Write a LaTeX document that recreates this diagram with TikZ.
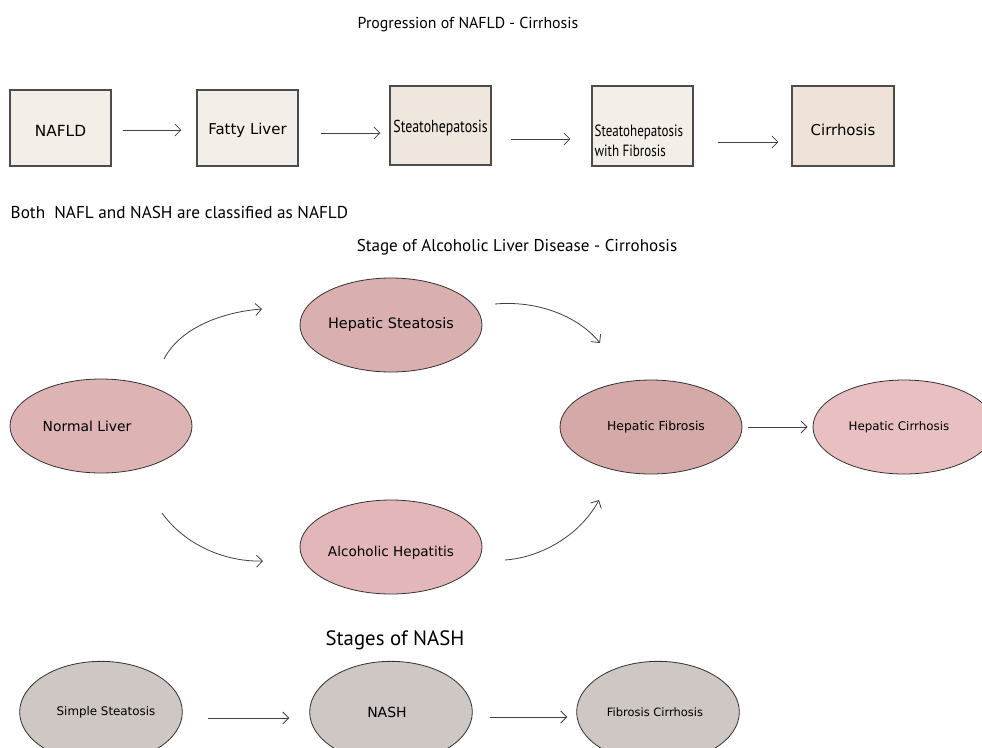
\documentclass[tikz,border=0pt]{standalone}
\usepackage{fontspec}
\setmainfont{PT Sans}
\newfontfamily\labelfont{DejaVu Sans}
\newfontfamily\narrowfont[FakeStretch=0.8]{PT Sans}
\usetikzlibrary{arrows.meta,shapes.geometric,calc}

\definecolor{boxbeige}{HTML}{F4EEE8}
\definecolor{boxtan}{HTML}{EFE6DD}
\definecolor{boxrose}{HTML}{EFE2D8}
\definecolor{steatpink}{HTML}{D9B0AF}
\definecolor{normalpink}{HTML}{DDB4B3}
\definecolor{alcopink}{HTML}{E3B7BA}
\definecolor{fibropink}{HTML}{D4A9A8}
\definecolor{cirrpink}{HTML}{E9C0C1}
\definecolor{nashgrey}{HTML}{CEC7C3}

\newcommand{\lsize}[1]{\labelfont\fontsize{#1}{#1}\selectfont}
\newcommand{\dropby}[2]{\raisebox{-#1}[\height][\depth]{#2}}

\begin{document}
\begin{tikzpicture}[x=0.75pt,y=-0.75pt,
  stagebox/.style={draw=black!70,line width=0.9pt,inner sep=0pt,
    minimum width=75.75pt,minimum height=57pt,font=\lsize{11.2}},
  liverblob/.style={ellipse,draw=black!80,line width=0.6pt,inner sep=0pt,
    minimum width=136.5pt,minimum height=70.5pt,font=\lsize{10}},
  nashblob/.style={ellipse,draw=black!80,line width=0.6pt,inner sep=0pt,fill=nashgrey,
    minimum width=122pt,minimum height=76pt,font=\lsize{8.6}},
  flow/.style={-{Straight Barb[length=4.5pt,width=9pt]},draw=black!75,line width=0.6pt}]
\useasboundingbox (0,0) rectangle (982,747);
\clip (0,0) rectangle (982,747);

% titles
\node[font=\fontsize{11.9}{14}\selectfont] (title1) at (468,25) {Progression of NAFLD - Cirrhosis};
\node[font=\fontsize{12.9}{15}\selectfont,anchor=west] (note) at (6,212) {Both\ \ NAFL and NASH are classified as NAFLD};
\node[font=\fontsize{12.8}{15}\selectfont] (title2) at (517,247) {Stage of Alcoholic Liver Disease - Cirrohosis};
\node[font=\fontsize{15.6}{18}\selectfont] (title3) at (395,640) {Stages of NASH};

% NAFLD progression
\node[stagebox,fill=boxbeige,font=\lsize{11.5}] (nafld) at (60.5,128) {\dropby{2.25pt}{NAFLD}};
\node[stagebox,fill=boxbeige] (fatty) at (247.5,128) {\dropby{1.5pt}{Fatty Liver}};
\node[stagebox,fill=boxtan,minimum height=59.25pt,font=\narrowfont\fontsize{13}{14}\selectfont] (steato) at (440.5,125.5) {\dropby{2pt}{Steatohepatosis}};
\node[stagebox,fill=boxbeige,minimum height=60pt] (swf) at (642.5,126) {};
\node[font=\narrowfont\fontsize{12.2}{15}\selectfont,align=left,anchor=west,inner sep=0pt] (swftext) at ($(swf.west)+(3,15)$) {Steatohepatosis\\with Fibrosis};
\node[stagebox,fill=boxrose,minimum width=76.5pt,minimum height=60pt] (cirr) at (843,126) {\dropby{3pt}{Cirrhosis}};

\draw[flow] ($(nafld.east)+(11,2)$) -- ($(fatty.west)+(-15,2)$);
\draw[flow] ($(fatty.east)+(22,5)$) -- ($(steato.west)+(-9,7.5)$);
\draw[flow] ($(steato.east)+(19,13.5)$) -- ($(swf.west)+(-21,13)$);
\draw[flow] ($(swf.east)+(24,16)$) -- ($(cirr.west)+(-13,16)$);

% alcoholic liver disease
\node[liverblob,fill=normalpink,font=\lsize{10.4}] (normal) at (101,426) {\hspace*{-21pt}Normal Liver};
\node[liverblob,fill=steatpink,font=\lsize{10.8}] (steat) at (391,325) {Hepatic Steatosis};
\node[liverblob,fill=alcopink,font=\lsize{10.2}] (alco) at (391,547) {\dropby{4.5pt}{Alcoholic Hepatitis}};
\node[liverblob,fill=fibropink,font=\lsize{9.3}] (fibro) at (651,427) {\hspace*{7.5pt}Hepatic Fibrosis};
\node[liverblob,fill=cirrpink,font=\lsize{8.9}] (cirrh) at (904,427) {\hspace*{-7.5pt}Hepatic Cirrhosis};

\coordinate (c1s) at (164,359);
\coordinate (c1e) at (262,309);
\coordinate (c2s) at (495,304);
\coordinate (c2e) at (600,343);
\coordinate (c3s) at (162,513);
\coordinate (c3e) at (263,561);
\coordinate (c4s) at (505,560);
\coordinate (c4e) at (599,500);
\draw[flow] (c1s) .. controls (180,328) and (222,312) .. (c1e);
\draw[flow] (c2s) .. controls (540,300) and (580,318) .. (c2e);
\draw[flow] (c3s) .. controls (185,545) and (225,562) .. (c3e);
\draw[flow] (c4s) .. controls (545,557) and (582,532) .. (c4e);
\draw[flow,shorten <=4.5pt,shorten >=3.75pt] (fibro) -- (cirrh);

% NASH stages
\node[nashblob,font=\lsize{8.9}] (simple) at (101,712) {\hspace*{7.5pt}Simple Steatosis};
\node[nashblob,font=\lsize{10.5}] (nash) at (391,712) {\hspace*{-6pt}NASH};
\node[nashblob] (fibcirr) at (658,712) {\hspace*{-4.5pt}Fibrosis Cirrhosis};
\draw[flow] ($(simple.east)+(25,6)$) -- ($(nash.west)+(-20,6)$);
\draw[flow] ($(nash.east)+(17,5)$) -- ($(fibcirr.west)+(-9,5)$);
\end{tikzpicture}
\end{document}
